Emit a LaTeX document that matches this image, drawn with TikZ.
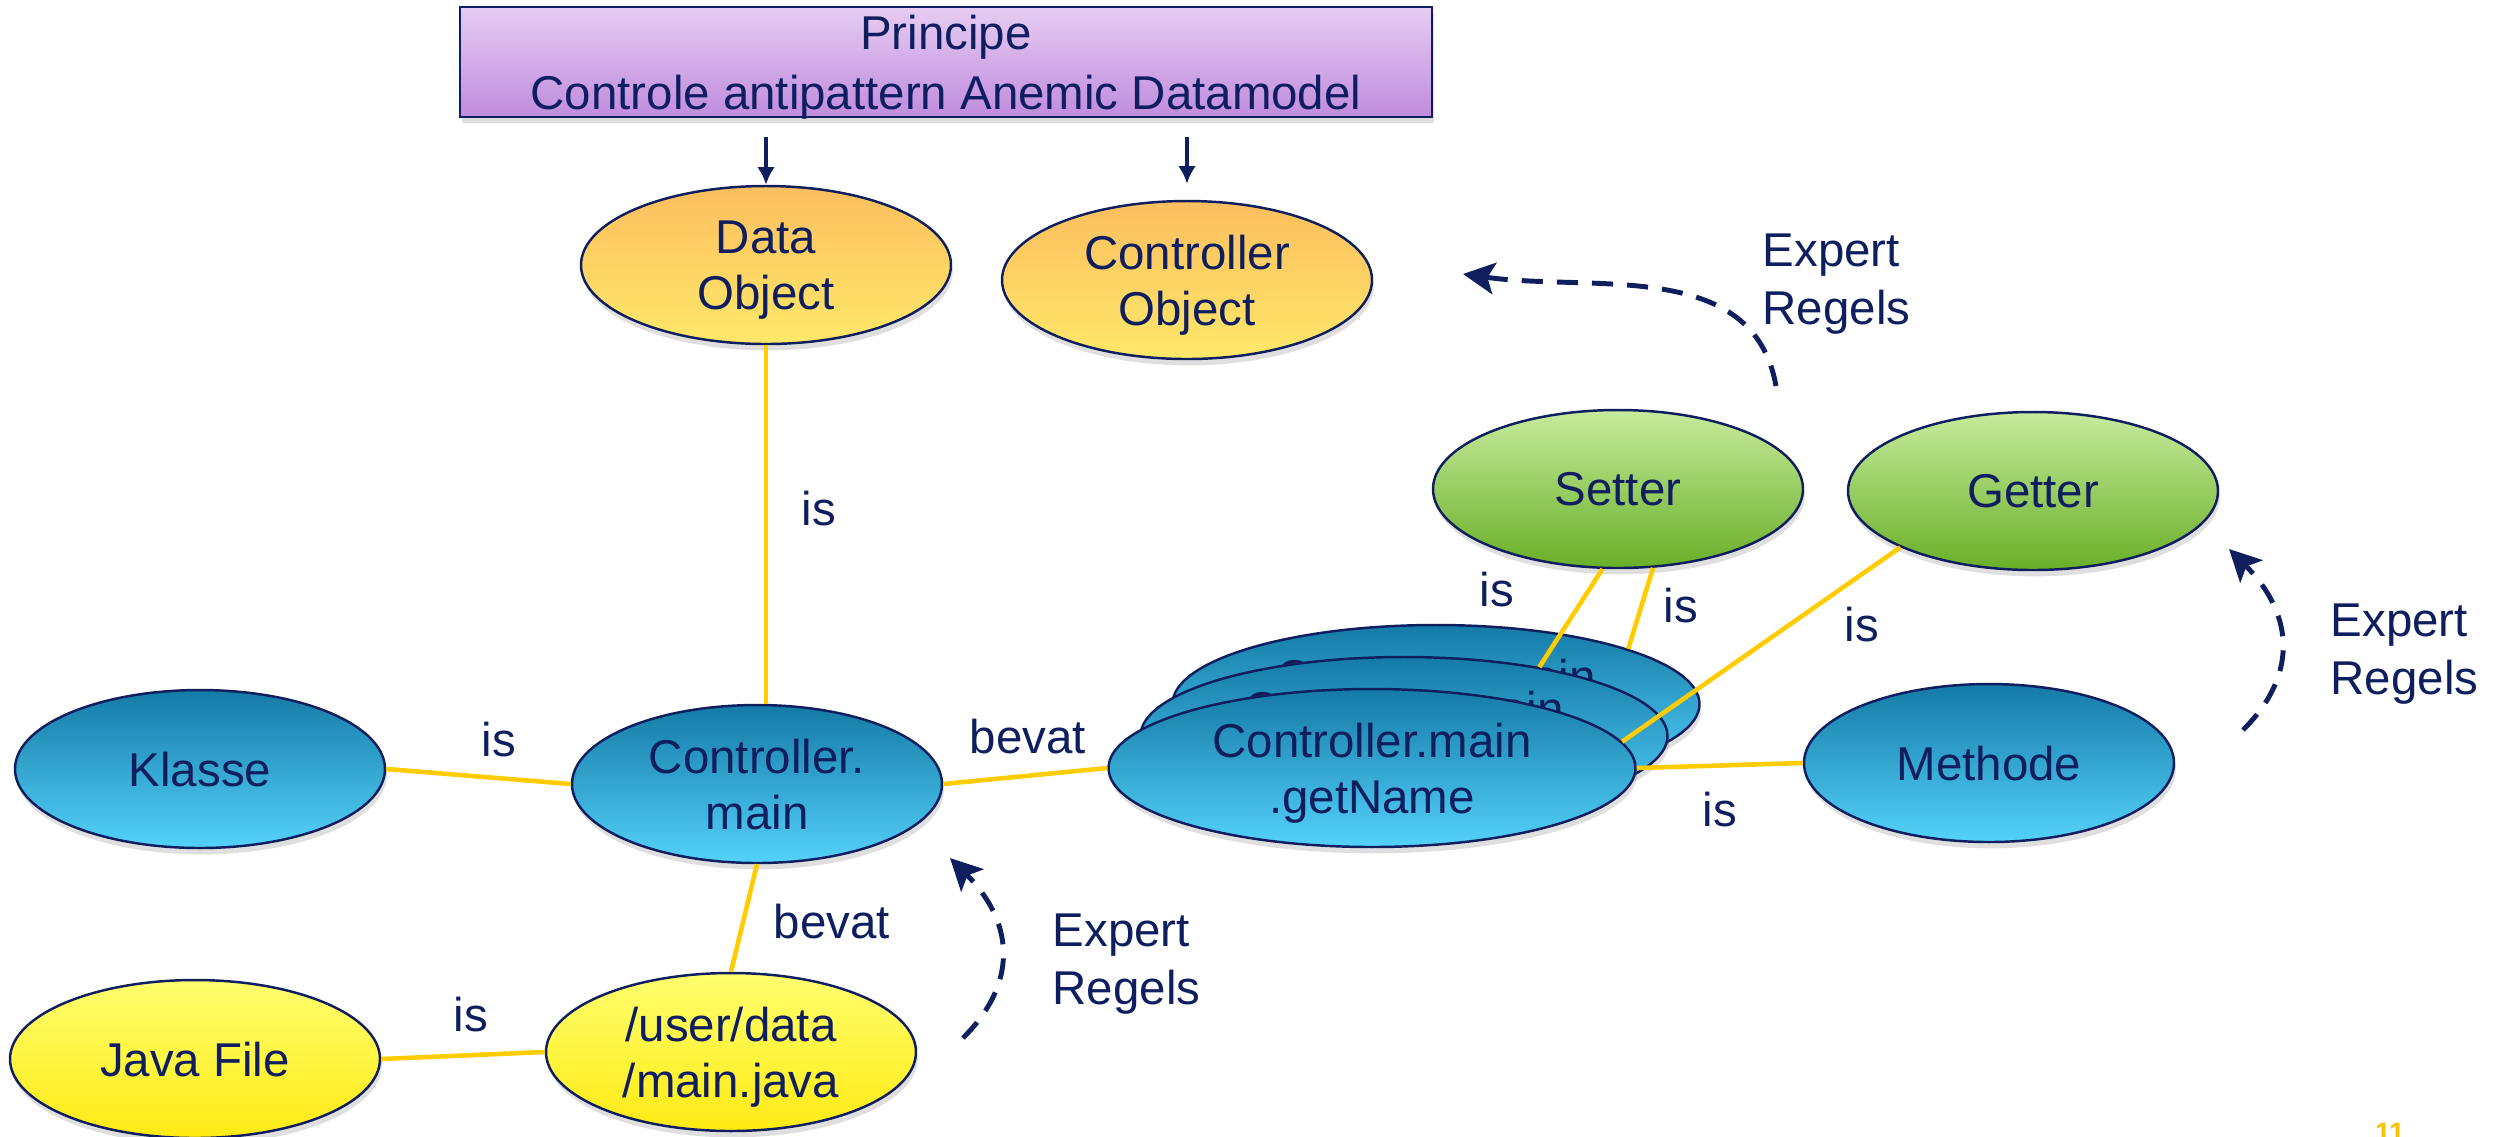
\documentclass[tikz,border=0pt]{standalone}
\usepackage{fontspec}
\setmainfont{Liberation Sans}
\usetikzlibrary{shapes,shadows,arrows.meta}

\definecolor{navy}{RGB}{15,30,95}
\definecolor{gold}{RGB}{255,204,0}
\definecolor{bluetop}{RGB}{20,122,166}
\definecolor{bluebot}{RGB}{84,210,250}
\definecolor{orangetop}{RGB}{253,190,95}
\definecolor{orangebot}{RGB}{254,232,105}
\definecolor{yellowtop}{RGB}{255,255,110}
\definecolor{yellowbot}{RGB}{255,234,20}
\definecolor{greentop}{RGB}{198,235,156}
\definecolor{greenbot}{RGB}{105,175,40}
\definecolor{lilactop}{RGB}{230,204,242}
\definecolor{lilacbot}{RGB}{192,140,222}
\definecolor{pagenr}{RGB}{245,195,0}

\begin{document}
\begin{tikzpicture}[
  every node/.style={font=\fontsize{13.5}{16}\selectfont, text=navy},
  bubble/.style={ellipse, draw=navy, line width=0.7pt, inner sep=0pt,
    minimum width=3.7cm, minimum height=1.58cm, align=center, text depth=0pt,
    drop shadow={shadow xshift=0.5pt, shadow yshift=-1.8pt, opacity=0.25}},
  bluebubble/.style={bubble, top color=bluetop, bottom color=bluebot},
  orangebubble/.style={bubble, top color=orangetop, bottom color=orangebot},
  yellowbubble/.style={bubble, top color=yellowtop, bottom color=yellowbot},
  greenbubble/.style={bubble, top color=greentop, bottom color=greenbot},
  link/.style={draw=gold, line width=1.3pt},
  lbl/.style={inner sep=0pt},
  titlearrow/.style={-{Latex[length=5pt,width=5pt]}, draw=navy, line width=1.1pt},
  expertarrow/.style={-{Stealth[length=9pt,width=9pt,inset=2pt]}, draw=navy,
    line width=1.4pt, dash pattern=on 6pt off 4pt},
]
\useasboundingbox (0,0) rectangle (24.93,-11.36);

% principe
\node [draw=navy, line width=0.7pt, top color=lilactop, bottom color=lilacbot,
  minimum width=9.72cm, minimum height=1.1cm, inner sep=0pt, align=center,
  font=\fontsize{13.5}{17}\selectfont, text depth=0pt,
  drop shadow={shadow xshift=0.5pt, shadow yshift=-1.8pt, opacity=0.25}]
  (title) at (9.46,-0.62) {Principe\\Controle antipattern Anemic Datamodel};

\node [orangebubble] (data) at (7.66,-2.65) {Data\\Object};
\node [orangebubble] (ctrlobj) at (11.87,-2.80) {Controller\\Object};

\node [bluebubble] (klasse) at (2.00,-7.69) {Klasse};
\node [bluebubble] (cmain) at (7.57,-7.84) {Controller.\\main};
\node [yellowbubble] (javafile) at (1.95,-10.59) {Java File};
\node [yellowbubble] (userdata) at (7.31,-10.52) {/user/data\\/main.java};

% stapel methodes
\foreach \name/\d in {back/0.64, middle/0.32, front/0} {
  \node [bluebubble, minimum width=5.27cm] (\name) at (13.72+\d,-7.68+\d) {Controller.main\\.getName};
}

\node [greenbubble] (setter) at (16.18,-4.89) {Setter};
\node [greenbubble] (getter) at (20.33,-4.91) {Getter};
\node [bluebubble] (methode) at (19.89,-7.63) {Methode};

\draw [titlearrow, shorten <=0.19cm] (title.south -| data.north) -- (data.north);
\draw [titlearrow, shorten <=0.19cm, shorten >=0.16cm] (title.south -| ctrlobj.north) -- (ctrlobj.north);

\draw [link] (data.south) -- (data.south |- cmain.north);
\draw [link] (klasse.east) -- (cmain.west);
\draw [link] (cmain.east) -- (front.west);
\draw [link] (cmain.south) -- (userdata.north);
\draw [link] (javafile.east) -- (userdata.west);
\draw [link] (front.east) -- (methode.west);
\draw [link] (setter.-101) -- (middle.27);
\draw [link] (setter.-66) -- (back.16.5);
\draw [link] (getter.203.5) -- (front.6.5);

% labels
\foreach \name/\x/\y in {isklasse/4.99/-7.40, isjava/4.71/-10.15, isdata/8.19/-5.09,
    isseta/14.97/-5.90, issetb/16.81/-6.06, isget/18.62/-6.25, ismeth/17.20/-8.10} {
  \node [lbl] (\name) at (\x,\y) {is};
}
\node [lbl] (bevata) at (10.28,-7.37) {bevat};
\node [lbl] (bevatb) at (8.32,-9.22) {bevat};

% expert regels
\node [lbl, anchor=north west, align=left, font=\fontsize{13.5}{16.5}\selectfont] (expa) at (17.62,-2.33) {Expert\\Regels};
\node [lbl, anchor=north west, align=left, font=\fontsize{13.5}{16.5}\selectfont] (expb) at (23.30,-6.03) {Expert\\Regels};
\node [lbl, anchor=north west, align=left, font=\fontsize{13.5}{16.5}\selectfont] (expc) at (10.52,-9.13) {Expert\\Regels};

\coordinate (ta) at (17.76,-3.86);
\coordinate (ha) at (14.63,-2.74);
\coordinate (tb) at (22.43,-7.30);
\coordinate (hb) at (22.29,-5.49);
\coordinate (tc) at (9.63,-10.38);
\coordinate (hc) at (9.50,-8.58);
\draw [expertarrow] (ta) to[out=100, in=-8] (ha);
\draw [expertarrow] (tb) to[out=45, in=-45, looseness=1.2] (hb);
\draw [expertarrow] (tc) to[out=45, in=-45, looseness=1.2] (hc);

\node [lbl, anchor=north, text=pagenr, font=\fontsize{8}{9}\selectfont\bfseries] (pagenr) at (23.90,-11.22) {11};

\end{tikzpicture}
\end{document}
